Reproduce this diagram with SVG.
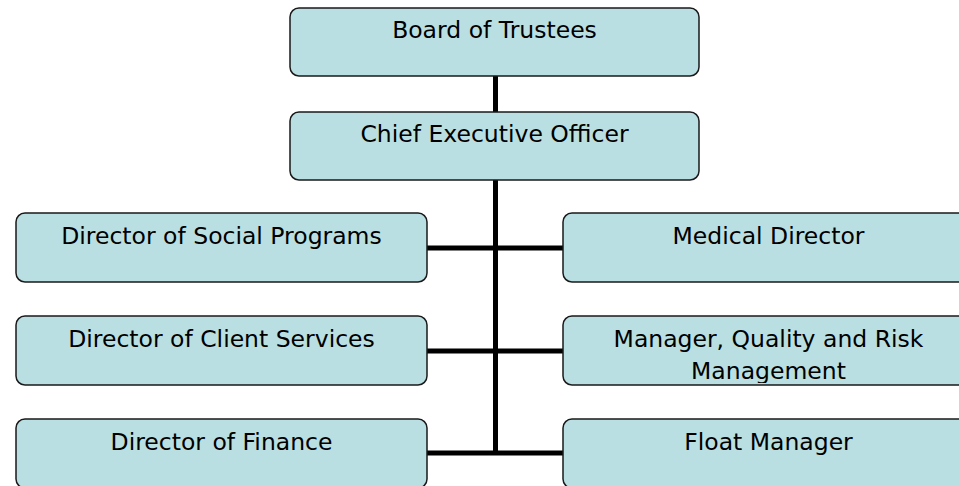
<svg xmlns="http://www.w3.org/2000/svg" width="959" height="486" viewBox="0 0 959 486">
<defs>
<style>
.box{fill:#b9dfe2;stroke:#1a1a1a;stroke-width:1.5}
.lbl{font-family:"DejaVu Sans",sans-serif;font-size:23.5px;fill:#000;text-anchor:middle}
.con{stroke:#000;stroke-width:5;fill:none}
</style>
<clipPath id="cq"><rect x="563" y="316" width="411" height="67"/></clipPath>
</defs>
<rect width="959" height="486" fill="#fff"/>
<g id="connectors">
<line class="con" x1="495.5" y1="76" x2="495.5" y2="112"/>
<line class="con" x1="495.5" y1="180" x2="495.5" y2="455"/>
<line class="con" x1="427" y1="248" x2="563" y2="248"/>
<line class="con" x1="427" y1="351" x2="563" y2="351"/>
<line class="con" x1="427" y1="453" x2="563" y2="453"/>
</g>
<g id="board"><rect class="box" x="290" y="8" width="409" height="68" rx="9"/><text class="lbl" x="494.5" y="37.5">Board of Trustees</text></g>
<g id="ceo"><rect class="box" x="290" y="112" width="409" height="68" rx="9"/><text class="lbl" x="494.5" y="141.5">Chief Executive Officer</text></g>
<g id="social"><rect class="box" x="16" y="213" width="411" height="69" rx="9"/><text class="lbl" x="221.5" y="244">Director of Social Programs</text></g>
<g id="client"><rect class="box" x="16" y="316" width="411" height="69" rx="9"/><text class="lbl" x="221.5" y="347">Director of Client Services</text></g>
<g id="finance"><rect class="box" x="16" y="419" width="411" height="69" rx="9"/><text class="lbl" x="221.5" y="450">Director of Finance</text></g>
<g id="medical"><rect class="box" x="563" y="213" width="411" height="69" rx="9"/><text class="lbl" x="768.5" y="244">Medical Director</text></g>
<g id="quality"><rect class="box" x="563" y="316" width="411" height="69" rx="9"/><text class="lbl" x="768.5" y="347" clip-path="url(#cq)"><tspan x="768.5">Manager, Quality and Risk</tspan><tspan x="768.5" dy="32">Management</tspan></text></g>
<g id="float"><rect class="box" x="563" y="419" width="411" height="69" rx="9"/><text class="lbl" x="768.5" y="450">Float Manager</text></g>
</svg>
